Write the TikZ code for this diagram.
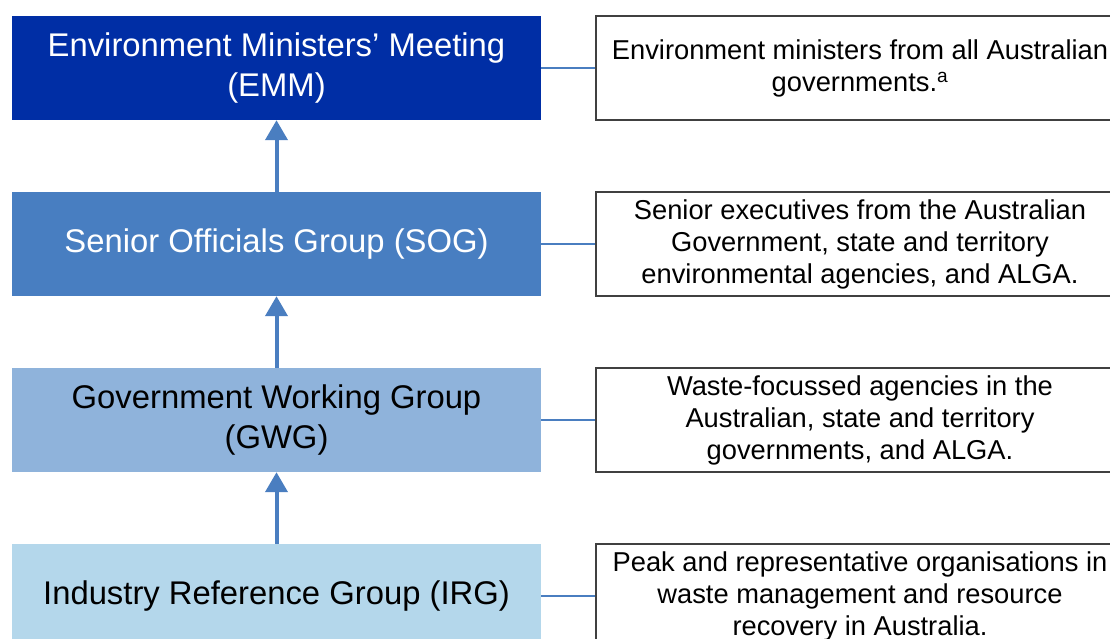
\documentclass[tikz,border=0pt]{standalone}
\usepackage{fontspec}
\setmainfont{Liberation Sans}
\usetikzlibrary{arrows.meta}
\definecolor{emmblue}{RGB}{0,46,165}
\definecolor{sogblue}{RGB}{72,126,193}
\definecolor{gwgblue}{RGB}{143,179,219}
\definecolor{irgblue}{RGB}{180,215,235}
\definecolor{linkblue}{RGB}{74,126,192}
\definecolor{framegray}{RGB}{64,64,64}
\begin{document}
\begin{tikzpicture}[x=1pt,y=-1pt,
  groupbox/.style={minimum width=529pt,minimum height=104pt,inner sep=0pt,
    align=center,font=\fontsize{32.8}{40}\selectfont},
  descbox/.style={draw=framegray,line width=1.3pt,fill=white,minimum width=528pt,
    minimum height=104pt,inner sep=0pt,align=center,
    font=\fontsize{27.3}{32}\selectfont},
  uparrow/.style={draw=linkblue,line width=4pt,
    -{Triangle[length=20pt,width=22pt]},shorten >=0pt},
  link/.style={draw=linkblue,line width=2.5pt}]
\useasboundingbox (0,0) rectangle (1110,639);
\clip (0,0) rectangle (1110,639);
\fill[white] (0,0) rectangle (1110,639);
% organisation tiers
\node[groupbox,fill=emmblue,text=white] (emm) at (276.5,68)
  {Environment Ministers’ Meeting\\(EMM)};
\node[groupbox,fill=sogblue,text=white] (sog) at (276.5,244)
  {Senior Officials Group (SOG)};
\node[groupbox,fill=gwgblue,text=black] (gwg) at (276.5,420)
  {Government Working Group\\(GWG)};
\node[groupbox,fill=irgblue,text=black] (irg) at (276.5,596)
  {Industry Reference Group (IRG)};
% membership descriptions
\node[descbox] (emmd) at (860,68)
  {Environment ministers from all Australian\\governments.\textsuperscript{a}};
\node[descbox] (sogd) at (860,244)
  {Senior executives from the Australian\\Government, state and territory\\environmental agencies, and ALGA.};
\node[descbox] (gwgd) at (860,420)
  {Waste-focussed agencies in the\\Australian, state and territory\\governments, and ALGA.};
\node[descbox] (irgd) at (860,596)
  {Peak and representative organisations in\\waste management and resource\\recovery in Australia.};
% reporting lines
\draw[uparrow] (sog.north) -- (emm.south);
\draw[uparrow] (gwg.north) -- (sog.south);
\draw[uparrow] (irg.north) -- (gwg.south);
% links to descriptions
\draw[link] (emm.east) -- (emmd.west);
\draw[link] (sog.east) -- (sogd.west);
\draw[link] (gwg.east) -- (gwgd.west);
\draw[link] (irg.east) -- (irgd.west);
\end{tikzpicture}
\end{document}
